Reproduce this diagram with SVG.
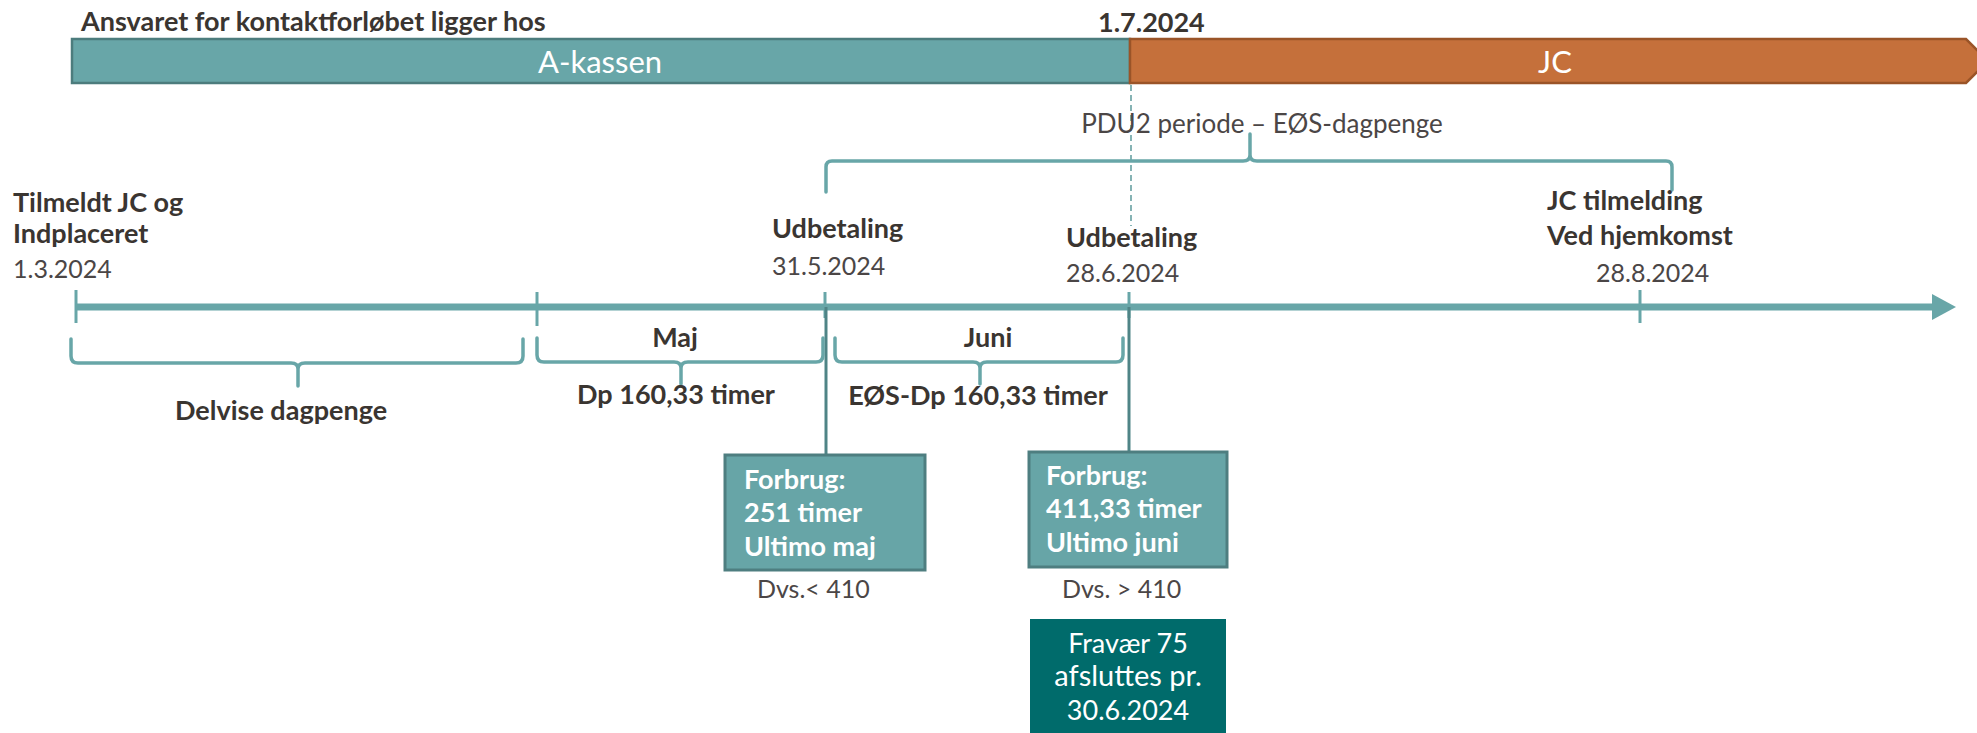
<svg xmlns="http://www.w3.org/2000/svg" width="1977" height="733" viewBox="0 0 1977 733">
<style>
.b{font-family:Lato,"Open Sans","Liberation Sans",sans-serif;font-weight:bold;font-size:27px;fill:#3a3531}
.r{font-family:Lato,"Open Sans","Liberation Sans",sans-serif;font-size:25px;fill:#4b4646}
.w{font-family:Lato,"Open Sans","Liberation Sans",sans-serif;font-weight:bold;font-size:27px;fill:#ffffff}
.wr{font-family:Lato,"Open Sans","Liberation Sans",sans-serif;font-size:27px;fill:#ffffff}
.brace{fill:none;stroke:#68a6a8;stroke-width:3.5;stroke-linejoin:round;stroke-linecap:round}
.tick{stroke:#68a6a8;stroke-width:3}
.conn{stroke:#4f8486;stroke-width:3}
.box{fill:#67a5a7;stroke:#4e7e80;stroke-width:3}
</style>
<rect width="1977" height="733" fill="#ffffff"/>

<g id="header">
<text class="b" x="81" y="31">Ansvaret for kontaktforløbet ligger hos</text>
<text class="b" x="1098" y="32">1.7.2024</text>
</g>

<g id="akassen">
<rect x="72" y="39" width="1058" height="44" fill="#68a6a8" stroke="#4c7c7d" stroke-width="2.5"/>
<text class="wr" style="font-size:31px" x="600" y="73" text-anchor="middle">A-kassen</text>
</g>

<g id="jc">
<polygon points="1130,39 1966,39 1988,61 1966,83 1130,83" fill="#c5703b" stroke="#9a5428" stroke-width="2.5"/>
<text class="wr" style="font-size:31px" x="1555" y="73" text-anchor="middle">JC</text>
</g>

<g id="connectors">
<line x1="1131" y1="85" x2="1131" y2="226" stroke="#5d9a9c" stroke-width="1.5" stroke-dasharray="6 4"/>
<line x1="76" y1="307" x2="1936" y2="307" stroke="#68a6a8" stroke-width="7"/>
<polygon points="1932,294 1956,307 1932,320" fill="#68a6a8"/>
<line class="tick" x1="76" y1="290" x2="76" y2="323"/>
<line class="tick" x1="537" y1="292" x2="537" y2="326"/>
<line class="tick" x1="825" y1="292" x2="825" y2="318"/>
<line class="tick" x1="1129" y1="292" x2="1129" y2="318"/>
<line class="tick" x1="1640" y1="290" x2="1640" y2="323"/>
<line class="conn" x1="826" y1="307" x2="826" y2="455"/>
<line class="conn" x1="1129" y1="307" x2="1129" y2="452"/>
<path class="brace" d="M826,192 L826,167 Q826,161 832,161 L1243,161 Q1250,161 1250,155 L1250,134 L1250,155 Q1250,161 1257,161 L1666,161 Q1672,161 1672,167 L1672,190"/>
<path class="brace" d="M71,339 L71,356 Q71,363 78,363 L291,363 Q298,363 298,369 L298,386 L298,369 Q298,363 305,363 L516,363 Q523,363 523,356 L523,339"/>
<path class="brace" d="M537,338 L537,355 Q537,362 544,362 L674,362 Q681,362 681,368 L681,384 L681,368 Q681,362 688,362 L816,362 Q823,362 823,355 L823,338"/>
<path class="brace" d="M835,338 L835,355 Q835,362 842,362 L973,362 Q980,362 980,368 L980,384 L980,368 Q980,362 987,362 L1116,362 Q1123,362 1123,355 L1123,338"/>
</g>

<g id="start">
<text class="b" x="13" y="212">Tilmeldt JC og</text>
<text class="b" x="13" y="243">Indplaceret</text>
<text class="r" x="13" y="278">1.3.2024</text>
</g>

<g id="udbetaling-maj">
<text class="b" x="772" y="238">Udbetaling</text>
<text class="r" x="772" y="275">31.5.2024</text>
</g>

<g id="udbetaling-juni">
<text class="b" x="1066" y="247">Udbetaling</text>
<text class="r" x="1066" y="282">28.6.2024</text>
</g>

<g id="jc-tilmelding">
<text class="b" x="1547" y="210">JC tilmelding</text>
<text class="b" x="1547" y="245">Ved hjemkomst</text>
<text class="r" x="1596" y="282">28.8.2024</text>
</g>

<g id="pdu2">
<text class="r" style="font-size:26px" x="1262" y="133" text-anchor="middle">PDU2 periode – EØS-dagpenge</text>
</g>

<g id="delvise">
<text class="b" x="281" y="420" text-anchor="middle">Delvise dagpenge</text>
</g>

<g id="maj">
<text class="b" x="675" y="347" text-anchor="middle">Maj</text>
<text class="b" x="676" y="404" text-anchor="middle">Dp 160,33 timer</text>
</g>

<g id="juni">
<text class="b" x="988" y="347" text-anchor="middle">Juni</text>
<text class="b" x="978" y="405" text-anchor="middle">EØS-Dp 160,33 timer</text>
</g>

<g id="forbrug-maj">
<rect class="box" x="725" y="455" width="200" height="115"/>
<text class="w" x="744" y="489">Forbrug:</text>
<text class="w" x="744" y="522">251 timer</text>
<text class="w" x="744" y="556">Ultimo maj</text>
</g>
<text class="r" x="757" y="598">Dvs.&lt; 410</text>

<g id="forbrug-juni">
<rect class="box" x="1029" y="452" width="198" height="115"/>
<text class="w" x="1046" y="485">Forbrug:</text>
<text class="w" x="1046" y="518">411,33 timer</text>
<text class="w" x="1046" y="552">Ultimo juni</text>
</g>
<text class="r" x="1062" y="598">Dvs. &gt; 410</text>

<g id="fravaer">
<rect x="1030" y="619" width="196" height="130" fill="#006b6b"/>
<text class="wr" x="1128" y="653" text-anchor="middle">Fravær 75</text>
<text class="wr" style="font-size:29px" x="1128" y="686" text-anchor="middle">afsluttes pr.</text>
<text class="wr" x="1128" y="720" text-anchor="middle">30.6.2024</text>
</g>
</svg>
